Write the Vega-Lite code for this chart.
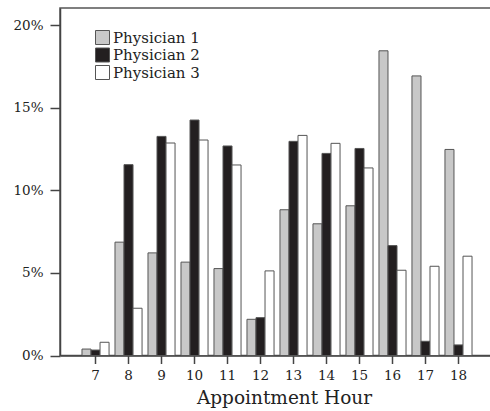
{
  "$schema": "https://vega.github.io/schema/vega-lite/v6.json",
  "width": 432,
  "height": 347.5,
  "autosize": {"type": "none"},
  "padding": {"left": 60, "top": 8, "right": 0, "bottom": 55.5},
  "config": {
    "font": "DejaVu Serif",
    "view": {"stroke": "#555", "strokeWidth": 1.5},
    "axis": {"domainColor": "#444", "domainWidth": 1.5, "tickColor": "#444", "tickWidth": 1.5, "labelColor": "#222", "titleColor": "#222", "grid": false, "labelFont": "DejaVu Serif", "titleFont": "DejaVu Serif", "titleFontWeight": "normal"}
  },
  "data": {
    "values": [
      {"hour": "7", "physician": "Physician 1", "share": 0.0039},
      {"hour": "7", "physician": "Physician 2", "share": 0.0033},
      {"hour": "7", "physician": "Physician 3", "share": 0.0080},
      {"hour": "8", "physician": "Physician 1", "share": 0.0686},
      {"hour": "8", "physician": "Physician 2", "share": 0.1155},
      {"hour": "8", "physician": "Physician 3", "share": 0.0286},
      {"hour": "9", "physician": "Physician 1", "share": 0.0621},
      {"hour": "9", "physician": "Physician 2", "share": 0.1326},
      {"hour": "9", "physician": "Physician 3", "share": 0.1286},
      {"hour": "10", "physician": "Physician 1", "share": 0.0565},
      {"hour": "10", "physician": "Physician 2", "share": 0.1425},
      {"hour": "10", "physician": "Physician 3", "share": 0.1304},
      {"hour": "11", "physician": "Physician 1", "share": 0.0526},
      {"hour": "11", "physician": "Physician 2", "share": 0.1268},
      {"hour": "11", "physician": "Physician 3", "share": 0.1153},
      {"hour": "12", "physician": "Physician 1", "share": 0.0219},
      {"hour": "12", "physician": "Physician 2", "share": 0.0229},
      {"hour": "12", "physician": "Physician 3", "share": 0.0512},
      {"hour": "13", "physician": "Physician 1", "share": 0.0882},
      {"hour": "13", "physician": "Physician 2", "share": 0.1296},
      {"hour": "13", "physician": "Physician 3", "share": 0.1332},
      {"hour": "14", "physician": "Physician 1", "share": 0.0797},
      {"hour": "14", "physician": "Physician 2", "share": 0.1223},
      {"hour": "14", "physician": "Physician 3", "share": 0.1284},
      {"hour": "15", "physician": "Physician 1", "share": 0.0906},
      {"hour": "15", "physician": "Physician 2", "share": 0.1253},
      {"hour": "15", "physician": "Physician 3", "share": 0.1135},
      {"hour": "16", "physician": "Physician 1", "share": 0.1844},
      {"hour": "16", "physician": "Physician 2", "share": 0.0665},
      {"hour": "16", "physician": "Physician 3", "share": 0.0516},
      {"hour": "17", "physician": "Physician 1", "share": 0.1692},
      {"hour": "17", "physician": "Physician 2", "share": 0.0086},
      {"hour": "17", "physician": "Physician 3", "share": 0.0540},
      {"hour": "18", "physician": "Physician 1", "share": 0.1247},
      {"hour": "18", "physician": "Physician 2", "share": 0.0064},
      {"hour": "18", "physician": "Physician 3", "share": 0.0601}
    ]
  },
  "mark": {"type": "bar", "stroke": "#555", "strokeWidth": 1},
  "encoding": {
    "x": {
      "field": "hour",
      "type": "ordinal",
      "sort": ["7","8","9","10","11","12","13","14","15","16","17","18"],
      "scale": {"paddingInner": 0.18, "paddingOuter": 0.636, "align": 0.524},
      "axis": {"title": "Appointment Hour", "labelAngle": 0, "labelFontSize": 13.5, "titleFontSize": 18.5, "tickSize": 8, "labelPadding": 5, "titlePadding": 6, "titleX": 224, "titleAlign": "center"}
    },
    "xOffset": {
      "field": "physician",
      "type": "nominal",
      "sort": ["Physician 1", "Physician 2", "Physician 3"],
      "scale": {"paddingInner": 0, "paddingOuter": 0}
    },
    "y": {
      "field": "share",
      "type": "quantitative",
      "scale": {"domain": [0, 0.2103], "nice": false},
      "axis": {"title": null, "format": ".0%", "values": [0, 0.05, 0.1, 0.15, 0.2], "labelFontSize": 13.5, "tickSize": 10, "labelPadding": 7}
    },
    "fill": {
      "field": "physician",
      "type": "nominal",
      "sort": ["Physician 1", "Physician 2", "Physician 3"],
      "scale": {"range": ["#c8c8c8", "#231f20", "#ffffff"]},
      "legend": {
        "title": null,
        "orient": "none",
        "legendX": 35,
        "legendY": 22,
        "padding": 0,
        "symbolType": "square",
        "symbolSize": 196,
        "symbolStrokeColor": "#555",
        "symbolStrokeWidth": 1,
        "symbolOpacity": 1,
        "labelFontSize": 15,
        "labelFont": "DejaVu Serif",
        "labelColor": "#222",
        "labelOffset": 3,
        "rowPadding": -1.5
      }
    }
  }
}
